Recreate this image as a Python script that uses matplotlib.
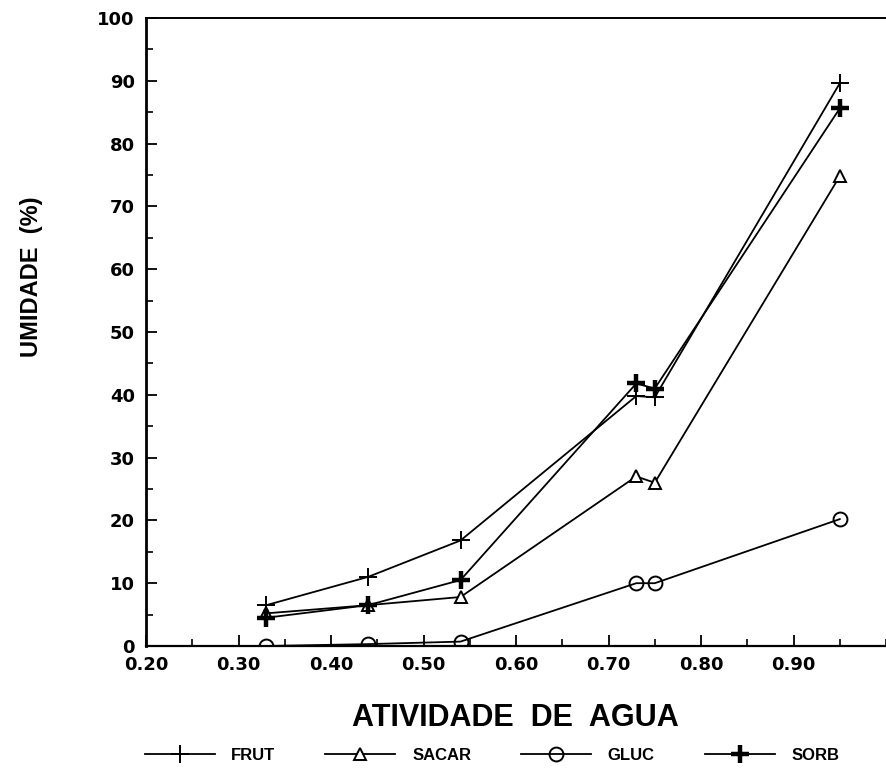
import matplotlib
matplotlib.use("Agg")
import matplotlib.pyplot as plt
from matplotlib.ticker import MultipleLocator, FixedLocator

plt.rcParams['font.family'] = ['Liberation Sans', 'DejaVu Sans']
plt.rcParams['font.weight'] = 'bold'

# water activity (aw) and moisture content (%) for each humectant
aw = [0.33, 0.44, 0.54, 0.73, 0.75, 0.95]
frut = [6.5, 11.0, 16.8, 39.8, 39.6, 89.6]
sacar = [5.2, 6.5, 7.8, 27.0, 26.0, 74.8]
gluc = [0.0, 0.3, 0.7, 10.0, 10.0, 20.2]
sorb = [4.5, 6.5, 10.5, 41.8, 41.0, 85.6]

x_ticks = [0.20, 0.30, 0.40, 0.50, 0.60, 0.70, 0.80, 0.90]
x_ticklabels = ["0.20", "0.30", "0.40", "0.50", "0.60", "0.70", "0.80", "0.90"]
y_ticks = [0, 10, 20, 30, 40, 50, 60, 70, 80, 90, 100]

fig = plt.figure(figsize=(8.86, 7.70), dpi=100)
ax = fig.add_axes([146/886, (770-646)/770, 1 - 146/886, (646-18)/770])

lw = 1.3
ax.plot(aw, frut, color='black', lw=lw, marker='+', ms=13, mew=1.4, label='FRUT')
ax.plot(aw, sacar, color='black', lw=lw, marker='^', ms=9, mew=1.4,
        mfc='white', label='SACAR')
ax.plot(aw, gluc, color='black', lw=lw, marker='o', ms=10, mew=1.4,
        mfc='none', label='GLUC')
ax.plot(aw, sorb, color='black', lw=lw, marker='+', ms=13, mew=3.2, label='SORB')

ax.set_xlim(0.20, 1.00)
ax.set_ylim(0, 100)
ax.xaxis.set_major_locator(FixedLocator(x_ticks))
ax.set_xticklabels(x_ticklabels)
ax.xaxis.set_minor_locator(MultipleLocator(0.05))
ax.yaxis.set_major_locator(FixedLocator(y_ticks))
ax.yaxis.set_minor_locator(MultipleLocator(5))

ax.tick_params(axis='both', which='major', direction='in', length=8, width=1.3,
               labelsize=13, pad=8)
ax.tick_params(axis='both', which='minor', direction='in', length=5, width=1.2)
ax.tick_params(axis='x', which='major', pad=7)
for lab in ax.get_xticklabels() + ax.get_yticklabels():
    lab.set_fontweight('bold')
    lab.set_family('DejaVu Sans')

ax.spines['right'].set_visible(False)
ax.spines['left'].set_linewidth(2.0)
ax.spines['bottom'].set_linewidth(1.6)
ax.spines['top'].set_linewidth(1.4)

fig.text(515/886, 1 - 718/770, "ATIVIDADE  DE  AGUA", ha='center', va='center',
         fontsize=22, fontweight='bold')
fig.text(32/886, 1 - 277/770, "UMIDADE  (%)", ha='center', va='center',
         rotation=90, fontsize=17, fontweight='bold')

handles, labels = ax.get_legend_handles_labels()
fig.legend(handles, labels, loc='center', bbox_to_anchor=(492/886, 1 - 755/770),
           ncol=4, frameon=False, handlelength=4.2, columnspacing=3.0,
           handletextpad=1.0, prop={'weight': 'bold', 'size': 12})

fig.savefig("out.png", dpi=100)
